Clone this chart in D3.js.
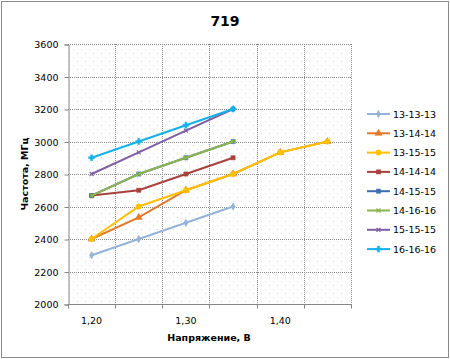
<!DOCTYPE html>
<html>
<head>
<meta charset="utf-8">
<script src="https://cdn.jsdelivr.net/npm/d3@7"></script>
<style>
  body { margin: 0; background: #fff; }
  text { font-family: "DejaVu Sans", Verdana, sans-serif; fill: #000; }
</style>
</head>
<body>
<svg id="chart" width="450" height="359"></svg>
<script>
// voltage categories (x axis), only every other one gets a label
var voltages = ["1,20", "1,25", "1,30", "1,35", "1,40", "1,45"];
var yTicks = [2000, 2200, 2400, 2600, 2800, 3000, 3200, 3400, 3600];

// timings series, frequency in MHz per voltage (null = no point)
var seriesNames = ["13-13-13", "13-14-14", "13-15-15", "14-14-14", "14-15-15", "14-16-16", "15-15-15", "16-16-16"];
var s131313 = [2300, 2400, 2500, 2600, null, null];
var s131414 = [2400, 2533, 2700, 2800, 2933, 3000];
var s131515 = [2400, 2600, 2700, 2800, 2933, 3000];
var s141414 = [2667, 2700, 2800, 2900, null, null];
var s141515 = [2667, 2800, 2900, 3000, null, null];
var s141616 = [2667, 2800, 2900, 3000, null, null];
var s151515 = [2800, 2933, 3067, 3200, null, null];
var s161616 = [2900, 3000, 3100, 3200, null, null];
var seriesValues = [s131313, s131414, s131515, s141414, s141515, s141616, s151515, s161616];

var colors = ["#95b3d7", "#e3792b", "#ffc000", "#a8403c", "#3f6fb0", "#8cb54e", "#7e5fa3", "#14b1ea"];
var symX = d3.symbolTimes || d3.symbolX || d3.symbolCross;
var symbols = [d3.symbolDiamond, d3.symbolTriangle, d3.symbolCircle, d3.symbolSquare, d3.symbolSquare, symX, symX, d3.symbolCross];
var symSize = [16, 22, 24, 18, 18, 12, 12, 20];

var svg = d3.select("#chart");

// outer frame
svg.append("rect").attr("x", 1.5).attr("y", 1.5).attr("width", 447).attr("height", 356)
  .attr("fill", "#fff").attr("stroke", "#8c8c8c");

var pL = 68, pR = 351, pT = 44, pB = 304; // plot area

var x = d3.scaleBand().domain(voltages).range([pL, pR]).padding(0);
var y = d3.scaleLinear().domain([2000, 3600]).range([pB, pT]);

// sparse dotted background fill
var defs = svg.append("defs");
var pat = defs.append("pattern").attr("id", "dots").attr("width", 8).attr("height", 8)
  .attr("patternUnits", "userSpaceOnUse");
pat.append("rect").attr("x", 1).attr("y", 1).attr("width", 1).attr("height", 1).attr("fill", "#d6dbd6");
pat.append("rect").attr("x", 5).attr("y", 5).attr("width", 1).attr("height", 1).attr("fill", "#d6dbd6");
svg.append("rect").attr("x", pL).attr("y", pT).attr("width", pR - pL).attr("height", pB - pT)
  .attr("fill", "url(#dots)");

// grid
var grid = svg.append("g").attr("stroke", "#8a8a8a").attr("stroke-dasharray", "1,1").attr("stroke-width", 1);
yTicks.slice(1).forEach(function(t) {
  grid.append("line").attr("x1", pL).attr("x2", pR)
    .attr("y1", Math.round(y(t)) + 0.5).attr("y2", Math.round(y(t)) + 0.5);
});
voltages.forEach(function(v) {
  var xx = Math.round(x(v) + x.bandwidth()) + 0.5;
  grid.append("line").attr("x1", xx).attr("x2", xx).attr("y1", pT).attr("y2", pB);
});

// y axis
var yAxis = d3.axisLeft(y).tickValues(yTicks).tickSize(4).tickPadding(6).tickFormat(d3.format("d"));
var gy = svg.append("g").attr("transform", "translate(" + (pL + 0.5) + ",0.5)").call(yAxis);
gy.selectAll("line, path").attr("stroke", "#868686");
gy.selectAll("text").style("font-size", "9.5px");

// x axis: ticks on category boundaries, labels on every other category
var gx = svg.append("g").attr("transform", "translate(0," + (pB + 0.5) + ")");
gx.append("line").attr("x1", pL).attr("x2", pR + 1).attr("stroke", "#868686");
gx.selectAll("line.tick").data([pL].concat(voltages.map(function(v) { return x(v) + x.bandwidth(); })))
  .enter().append("line").attr("class", "tick")
  .attr("x1", function(d) { return Math.round(d) + 0.5; }).attr("x2", function(d) { return Math.round(d) + 0.5; })
  .attr("y1", 0).attr("y2", 4).attr("stroke", "#868686");
gx.selectAll("text").data(voltages.filter(function(d, i) { return i % 2 === 0; }))
  .enter().append("text")
  .attr("x", function(d) { return x(d) + x.bandwidth() / 2; })
  .attr("y", 19).attr("text-anchor", "middle").style("font-size", "9.5px")
  .text(function(d) { return d; });

// titles
svg.append("text").attr("x", 225).attr("y", 26).attr("text-anchor", "middle")
  .style("font-size", "14px").style("font-weight", "bold").text("719");
svg.append("text").attr("x", 209).attr("y", 341).attr("text-anchor", "middle")
  .style("font-size", "9.5px").style("font-weight", "bold").text("Напряжение, В");
svg.append("text").attr("transform", "translate(28,174) rotate(-90)").attr("text-anchor", "middle")
  .style("font-size", "9.5px").style("font-weight", "bold").text("Частота, МГц");

// series
var line = d3.line()
  .defined(function(d) { return d.v !== null; })
  .x(function(d) { return x(d.c) + x.bandwidth() / 2; })
  .y(function(d) { return y(d.v); });

seriesValues.forEach(function(vals, i) {
  var pts = vals.map(function(v, j) { return { c: voltages[j], v: v }; });
  var g = svg.append("g");
  g.append("path").datum(pts).attr("d", line).attr("fill", "none")
    .attr("stroke", colors[i]).attr("stroke-width", 2);
  var isStroke = symbols[i] === symX;
  g.selectAll("path.m").data(pts.filter(function(d) { return d.v !== null; }))
    .enter().append("path").attr("class", "m")
    .attr("transform", function(d) { return "translate(" + (x(d.c) + x.bandwidth() / 2) + "," + y(d.v) + ")"; })
    .attr("d", d3.symbol().type(symbols[i]).size(symSize[i]))
    .attr("fill", isStroke ? "none" : colors[i])
    .attr("stroke", colors[i]).attr("stroke-width", isStroke ? 1.2 : 0.5);
});

// legend
var leg = svg.append("g");
seriesNames.forEach(function(name, i) {
  var ly = 114 + i * 19.3;
  leg.append("line").attr("x1", 367).attr("x2", 390).attr("y1", ly).attr("y2", ly)
    .attr("stroke", colors[i]).attr("stroke-width", 2);
  var isStroke = symbols[i] === symX;
  leg.append("path").attr("transform", "translate(378.5," + ly + ")")
    .attr("d", d3.symbol().type(symbols[i]).size(symSize[i]))
    .attr("fill", isStroke ? "none" : colors[i])
    .attr("stroke", colors[i]).attr("stroke-width", isStroke ? 1.2 : 0.5);
  leg.append("text").attr("x", 393).attr("y", ly + 3.5).style("font-size", "9.5px").text(name);
});
</script>
</body>
</html>
